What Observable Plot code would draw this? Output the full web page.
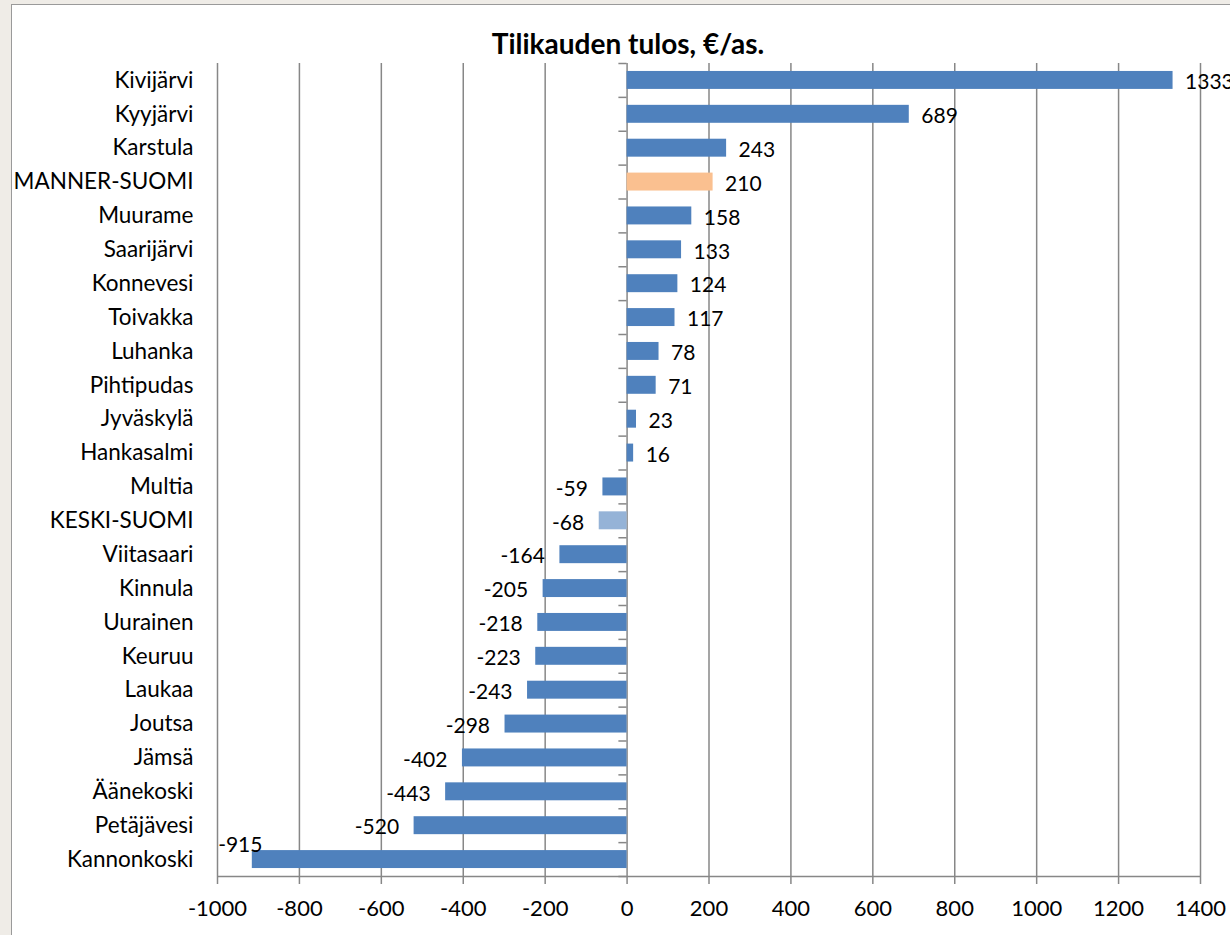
<!DOCTYPE html>
<html>
<head>
<meta charset="utf-8">
<script src="https://cdn.jsdelivr.net/npm/d3@7"></script>
<script src="https://cdn.jsdelivr.net/npm/@observablehq/plot@0.6"></script>
<style>
  html, body { margin: 0; padding: 0; background: #efece7; width: 1230px; height: 935px; overflow: hidden; }
  #frame { position: absolute; left: 11px; top: 4px; width: 1230px; height: 940px; background: #fff; border: 1.5px solid #9a9a9a; box-sizing: border-box; }
  #chart { position: absolute; left: 0; top: 0; }
  #title { position: absolute; left: 0; width: 1256px; top: 29px; line-height: 1; text-align: center; font-family: Lato, "Open Sans", sans-serif; font-weight: bold; font-size: 28px; color: #000; }
  svg { overflow: visible; }
</style>
</head>
<body>
<div id="frame"></div>
<div id="title">Tilikauden tulos, €/as.</div>
<div id="chart"></div>
<script>
const categories = ["Kivijärvi","Kyyjärvi","Karstula","MANNER-SUOMI","Muurame","Saarijärvi","Konnevesi","Toivakka","Luhanka","Pihtipudas","Jyväskylä","Hankasalmi","Multia","KESKI-SUOMI","Viitasaari","Kinnula","Uurainen","Keuruu","Laukaa","Joutsa","Jämsä","Äänekoski","Petäjävesi","Kannonkoski"];
const values = [1333,689,243,210,158,133,124,117,78,71,23,16,-59,-68,-164,-205,-218,-223,-243,-298,-402,-443,-520,-915];
const xTicks = [-1000,-800,-600,-400,-200,0,200,400,600,800,1000,1200,1400];
const highlight = {"MANNER-SUOMI": "#fac090", "KESKI-SUOMI": "#95b3d7"};
const baseColor = "#4f81bd";

const data = categories.map((c, i) => ({name: c, value: values[i], color: highlight[c] || baseColor}));

const W = 1230, H = 935, mT = 63, mB = 59, mL = 217, mR = 30;
const step = (H - mT - mB) / categories.length;
const font = "Lato, 'Open Sans', sans-serif";
const grid = "#878787";

const normal = data.filter(d => d.name !== "Kannonkoski");
const special = data.filter(d => d.name === "Kannonkoski");
const last = categories[categories.length - 1];

const chart = Plot.plot({
  width: W, height: H,
  marginTop: mT, marginBottom: mB, marginLeft: mL, marginRight: mR,
  style: {fontFamily: font, background: "transparent", overflow: "visible"},
  x: {domain: [-1000, 1400], ticks: xTicks, label: null},
  y: {domain: categories, paddingInner: 0.47, paddingOuter: 0.235, round: false, label: null},
  marks: [
    Plot.ruleX(xTicks, {stroke: grid, strokeWidth: 1.5}),
    Plot.ruleY([last], {y: d => d, x1: -1000, x2: 1400, dy: step / 2, stroke: grid, strokeWidth: 1.5}),
    Plot.barX(data, {x: "value", y: "name", fill: "color"}),
    Plot.ruleY(categories, {y: d => d, x1: -20, x2: 0, dy: -step / 2, stroke: grid, strokeWidth: 1.5}),
    Plot.ruleY([last], {y: d => d, x1: -20, x2: 0, dy: step / 2, stroke: grid, strokeWidth: 1.5}),
    Plot.text(normal.filter(d => d.value >= 0), {x: "value", y: "name", text: d => String(d.value), textAnchor: "start", dx: 12, dy: 2, fontSize: 21, fill: "#000"}),
    Plot.text(normal.filter(d => d.value < 0), {x: "value", y: "name", text: d => String(d.value), textAnchor: "end", dx: -15, dy: 2, fontSize: 21, fill: "#000"}),
    Plot.text(special, {x: "value", y: "name", text: d => String(d.value), textAnchor: "middle", dx: -12, dy: -14, fontSize: 21, fill: "#000"}),
    Plot.axisX({ticks: xTicks, tickSize: 8, tickPadding: 16, fontSize: 22, stroke: grid, strokeWidth: 1.5, color: "#000", tickFormat: d => String(d)}),
    Plot.axisY({tickSize: 0, tickPadding: 24, fontSize: 22.5, color: "#000"})
  ]
});
d3.select(chart).selectAll("[aria-label='x-axis tick'] path").attr("stroke", grid).attr("stroke-width", 1.5).attr("stroke-opacity", 1);
document.getElementById("chart").appendChild(chart);
</script>
</body>
</html>
